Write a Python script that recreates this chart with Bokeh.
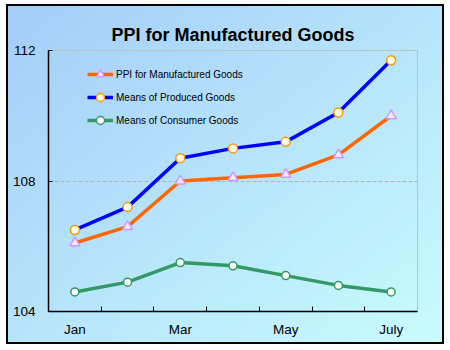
from bokeh.plotting import figure
from bokeh.models import FixedTicker, Range1d
from bokeh.embed import file_html
from bokeh.resources import INLINE

months = ["Jan", "Feb", "Mar", "Apr", "May", "Jun", "July"]
ppi = [106.1, 106.6, 108.0, 108.1, 108.2, 108.8, 110.0]
producer = [106.5, 107.2, 108.7, 109.0, 109.2, 110.1, 111.7]
consumer = [104.6, 104.9, 105.5, 105.4, 105.1, 104.8, 104.6]
y_ticks = [104, 108, 112]
grid_value = [108]

xs = [i + 0.5 for i in range(len(months))]

p = figure(
    width=434, height=336,
    x_range=Range1d(0, len(months)), y_range=Range1d(104, 112),
    output_backend="svg", toolbar_location=None,
    min_border_left=40, min_border_right=25, min_border_top=44, min_border_bottom=31,
    border_fill_color=None, background_fill_color=None,
    outline_line_color="#c0c0c0", outline_line_width=1,
    margin=(6, 0, 0, 8),
    styles={
        "background": "linear-gradient(to bottom right, #a4cdf8, #c9fbfd)",
        "outline": "2px solid black",
    },
)

p.title.text = "PPI for Manufactured Goods"
p.title.align = "center"
p.title.text_font = "Liberation Sans"
p.title.text_font_style = "bold"
p.title.text_font_size = "18px"
p.title.text_color = "black"
p.title.offset = -8
p.title.standoff = 12

# x axis: ticks between categories, labels at centers
p.xaxis.ticker = FixedTicker(ticks=[xs[i] for i in range(0, len(months), 2)],
                             minor_ticks=list(range(1, len(months))))
p.xaxis.major_label_overrides = {xs[i]: months[i] for i in range(0, len(months), 2)}
p.xaxis.major_tick_in = 0
p.xaxis.major_tick_out = 0
p.xaxis.minor_tick_in = 5
p.xaxis.minor_tick_out = 0
p.xaxis.minor_tick_line_color = "black"
p.xaxis.major_label_standoff = 10

p.yaxis.ticker = FixedTicker(ticks=y_ticks)
p.yaxis.major_tick_in = 4
p.yaxis.major_tick_out = 0
p.yaxis.minor_tick_line_color = None
p.yaxis.major_label_standoff = 13

for ax in (p.xaxis, p.yaxis):
    ax.axis_line_color = "black"
    ax.axis_line_width = 1.5
    ax.major_tick_line_color = "black"
    ax.major_label_text_font = "Liberation Sans"
    ax.major_label_text_font_size = "13.5px"
    ax.major_label_text_color = "black"

p.xgrid.grid_line_color = None
p.ygrid.ticker = FixedTicker(ticks=grid_value)
p.ygrid.grid_line_color = "#b4b4b4"
p.ygrid.grid_line_dash = "4 2"
p.ygrid.grid_line_width = 1.2

p.line(xs, ppi, line_color="#ff6600", line_width=3.5, legend_label="PPI for Manufactured Goods")
p.scatter(xs, ppi, marker="triangle", size=10, fill_color="#f4eaff", line_color="#cc99ff",
          line_width=1.5, legend_label="PPI for Manufactured Goods")

p.line(xs, producer, line_color="#0000ff", line_width=3.5, legend_label="Means of Produced Goods")
p.scatter(xs, producer, marker="circle", size=9, fill_color="#ffffee", line_color="#ff9900",
          line_width=1.5, legend_label="Means of Produced Goods")

p.line(xs, consumer, line_color="#339966", line_width=3.5, legend_label="Means of Consumer Goods")
p.scatter(xs, consumer, marker="circle", size=8, fill_color="white", line_color="#339966",
          line_width=1.5, legend_label="Means of Consumer Goods")

lg = p.legend[0]
lg.location = (39, 181)
lg.border_line_color = None
lg.background_fill_color = None
lg.background_fill_alpha = 0
lg.padding = 0
lg.margin = 0
lg.spacing = 3
lg.glyph_width = 26
lg.glyph_height = 20
lg.label_height = 20
lg.label_standoff = 3
lg.label_text_font = "Liberation Sans"
lg.label_text_font_size = "10px"
lg.label_text_color = "black"

open("out.html", "w").write(file_html(p, INLINE))
